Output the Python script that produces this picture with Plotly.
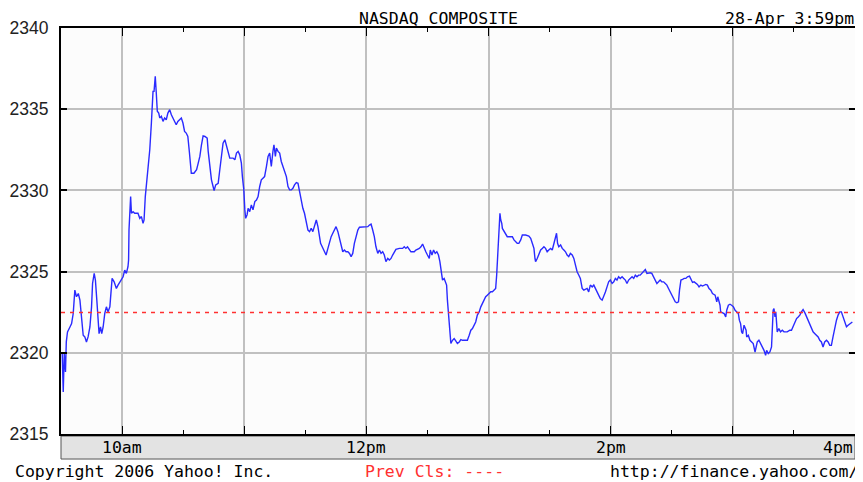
import plotly.graph_objects as go

# ---- data (minutes after 9:30 open, index level) ----
minutes = [
    0.6, 0.8, 1.1, 1.6, 2.2, 2.6, 3.2, 4.4, 5.2, 6.0, 6.8, 7.6, 8.5, 9.3, 10.1, 10.9, 11.7, 12.5, 13.3, 14.2,
    15.0, 15.5, 16.3, 16.9, 17.6, 18.2, 18.7, 19.4, 20.0, 20.7, 21.5, 22.3, 23.1, 24.0, 24.5, 25.1, 26.1, 27.2,
    28.0, 28.9, 29.7, 30.5, 31.3, 32.1, 32.9, 33.2, 33.4, 33.8, 34.2, 34.6, 35.4, 36.2, 37.8, 38.7, 39.5, 40.3,
    40.8, 41.4, 41.9, 42.7, 43.6, 44.4, 45.2, 45.7, 46.3, 46.8, 47.3, 48.0, 48.5, 49.3, 50.1, 50.9, 51.7, 52.5,
    53.4, 54.2, 55.0, 55.8, 56.6, 57.4, 58.2, 59.1, 59.9, 60.7, 61.5, 62.3, 63.1, 64.0,
    65.3, 66.6, 67.4, 68.2, 69.0, 69.8, 70.7, 71.8, 72.3, 73.1, 73.9, 74.7, 75.2, 76.0, 77.2, 78.0, 78.8, 79.6,
    80.5, 81.3, 82.1, 82.9, 84.5, 85.4, 86.2, 87.0, 87.8, 88.6, 89.1, 89.8, 90.3, 90.7, 91.4, 91.9, 92.7, 93.5,
    94.3, 95.2, 96.0, 96.8, 97.6, 98.4, 99.2, 100.0, 100.9, 101.7, 102.5, 102.8, 103.3, 104.1, 104.6, 105.3,
    105.8, 106.6, 107.4, 108.2, 109.0, 109.8, 110.7, 111.5, 112.3, 113.1, 113.9, 114.7, 115.6, 116.4, 117.2,
    118.0, 118.8, 119.6, 120.5, 121.3, 122.1, 122.9, 123.7, 124.5, 125.4, 126.2,
    127.5, 128.3, 128.9, 129.4, 130.2, 131.1, 131.9, 132.7, 133.5, 134.3, 135.1, 136.0, 136.8, 137.6, 138.4,
    139.2, 140.0, 140.9, 141.7, 142.5, 143.3, 144.1, 144.9, 145.8, 146.6, 148.2, 149.8, 150.7, 151.5, 152.3,
    153.1, 153.9, 154.7, 155.6, 156.4, 157.2, 158.0, 158.8, 159.6, 160.5, 161.3, 162.1, 162.9, 163.7, 164.5,
    166.2, 167.8, 168.6, 169.4, 170.2, 171.1, 171.9, 173.5, 174.3, 176.0, 176.8, 177.6, 178.4, 179.2, 180.0,
    180.9, 181.4, 182.2, 183.0, 183.8, 184.6, 185.4, 186.1, 186.9, 187.4, 188.2, 188.7, 189.4, 189.8, 190.3,
    191.0, 191.5,
    192.3, 193.1, 193.9, 194.7, 195.6, 196.4, 197.2, 198.8, 199.6, 200.5, 201.3, 202.1, 202.9, 203.7, 204.5,
    205.4, 206.2, 207.0, 207.8, 208.6, 209.4, 210.2, 211.1, 211.9, 212.7, 213.5, 214.0, 214.7, 215.1, 215.6,
    216.0, 216.5, 216.8, 217.6, 218.4, 219.2, 220.9, 221.7, 222.5, 223.3, 224.1, 224.9, 225.8, 226.6, 228.2,
    229.8, 230.7, 231.5, 232.3, 232.8, 233.1, 233.9, 234.7, 235.6, 236.4, 237.2, 238.0, 238.8, 239.6, 240.5,
    241.3, 242.1, 242.9, 243.4, 243.9, 244.5, 245.4, 246.2, 247.0, 247.8, 248.6, 249.4, 250.2, 251.1, 251.9,
    252.7, 253.5, 254.3, 255.1, 256.0, 256.8,
    258.4, 259.2, 260.0, 260.9, 261.7, 262.5, 263.3, 264.1, 264.9, 265.8, 266.6, 267.4, 268.2, 269.0, 269.8,
    270.7, 271.5, 272.3, 273.1, 273.9, 274.7, 275.6, 276.4, 277.2, 278.0, 278.8, 279.6, 280.5, 281.3, 282.1,
    282.9, 283.7, 284.5, 285.4, 286.2, 287.0, 287.8, 288.6, 289.4, 290.2, 291.1, 291.9, 292.7, 293.5, 294.3,
    295.1, 296.0, 296.8, 297.6, 298.4, 299.2, 300.0, 300.9, 301.7, 302.5, 303.3, 303.8, 304.5, 305.3, 306.1,
    306.9, 307.7, 308.7, 309.4, 310.2, 311.0, 311.8, 312.6, 313.4, 314.3, 315.1, 315.9, 316.7, 317.5, 318.3,
    319.2, 320.0,
    321.3, 322.1, 322.6, 323.2, 323.7, 324.0, 324.9, 325.7, 326.5, 327.0, 327.8, 328.6, 329.4, 330.3, 331.1,
    331.9, 332.7, 333.2, 333.8, 334.3, 334.8, 335.5, 336.0, 336.5, 336.8, 337.6, 338.4, 339.2, 340.0, 340.9,
    341.4, 342.0, 342.8, 343.6, 344.5, 345.3, 346.1, 346.6, 347.4, 348.2, 349.0, 349.2, 349.5, 349.8, 350.2,
    350.7, 351.1, 351.8, 352.6, 353.4, 354.3, 355.1, 356.7, 358.0, 358.8, 359.6, 360.5, 361.3, 362.1, 362.9,
    363.7, 364.5, 365.4, 366.2, 367.0, 367.8, 368.6, 369.4, 370.3, 371.1, 371.9, 372.7, 373.5, 374.3, 375.1,
    376.0, 376.8, 377.6, 378.4, 379.2, 380.0, 380.9, 381.7, 382.5, 383.3, 384.1, 384.9, 385.8, 386.6, 387.4,
    388.2, 388.7,
]

index_values = [
    2319.95, 2318.82, 2317.58, 2319.95, 2318.82, 2320.67, 2321.29, 2321.59, 2321.80, 2322.42, 2323.86, 2323.45,
    2323.65, 2323.24, 2322.21, 2321.08, 2320.98, 2320.67, 2320.98, 2321.59, 2322.83, 2324.27, 2324.89, 2324.48,
    2323.24, 2322.01, 2321.18, 2321.59, 2321.18, 2321.59, 2322.42, 2322.83, 2322.52, 2322.83, 2323.86, 2324.58,
    2324.37, 2323.96, 2324.17, 2324.37, 2324.48, 2324.68, 2325.09, 2324.89, 2325.30, 2325.71, 2327.56, 2329.41,
    2329.62, 2328.59, 2328.69, 2328.59, 2328.59, 2328.28, 2328.39, 2327.97, 2328.18, 2329.62, 2330.24, 2331.27,
    2332.50, 2334.15, 2336.10, 2336.10, 2337.03, 2336.00, 2334.87, 2334.76, 2334.46, 2334.56, 2334.25, 2334.46,
    2334.35, 2334.76, 2334.97, 2334.66, 2334.46, 2334.25, 2334.04, 2334.25, 2334.35, 2334.46, 2334.15, 2333.63,
    2333.53, 2333.32, 2332.30, 2331.06,
    2331.06, 2331.27, 2331.68, 2332.09, 2332.81, 2333.36, 2333.32, 2333.22, 2332.40, 2331.47, 2330.65, 2330.24,
    2329.99, 2330.34, 2330.44, 2331.27, 2332.09, 2332.91, 2333.12, 2332.71, 2332.30, 2331.99, 2331.99, 2331.88,
    2332.30, 2332.40, 2332.19, 2331.68, 2330.85, 2330.03, 2328.80, 2328.28, 2328.49, 2328.90, 2328.69, 2329.11,
    2328.80, 2329.31, 2329.41, 2329.62, 2330.24, 2330.65, 2330.75, 2330.85, 2331.47, 2332.09, 2332.30, 2331.78,
    2331.47, 2332.40, 2332.81, 2332.09, 2332.60, 2332.40, 2332.30, 2331.78, 2331.47, 2331.27, 2330.85, 2330.24,
    2330.03, 2330.03, 2330.13, 2330.34, 2330.48, 2330.44, 2329.93, 2329.31, 2328.90, 2328.59, 2328.08, 2327.56,
    2327.46, 2327.67, 2327.46, 2327.77, 2328.18, 2327.77,
    2326.74, 2326.53, 2326.33, 2326.22, 2326.02, 2326.43, 2326.84, 2327.15, 2327.36, 2327.56, 2327.77, 2327.46,
    2327.05, 2326.53, 2326.22, 2326.33, 2326.22, 2326.22, 2326.12, 2325.92, 2326.12, 2326.74, 2327.15, 2327.56,
    2327.73, 2327.73, 2327.77, 2327.77, 2327.87, 2327.93, 2327.56, 2327.15, 2326.53, 2326.12, 2326.33, 2326.12,
    2326.22, 2326.02, 2325.61, 2325.81, 2325.71, 2325.81, 2326.02, 2326.22, 2326.37, 2326.43, 2326.43, 2326.53,
    2326.43, 2326.53, 2326.33, 2326.22, 2326.22, 2326.33, 2326.43, 2326.53, 2326.70, 2326.43, 2326.22, 2326.02,
    2325.81, 2326.33, 2326.02, 2326.33, 2326.12, 2326.22, 2326.02, 2325.61, 2324.99, 2324.48, 2324.58, 2324.37,
    2324.17, 2323.24, 2322.42, 2321.39, 2320.57,
    2320.77, 2320.87, 2320.73, 2320.57, 2320.67, 2320.81, 2320.77, 2320.77, 2320.77, 2321.08, 2321.39, 2321.49,
    2321.70, 2321.90, 2322.32, 2322.52, 2322.83, 2323.04, 2323.34, 2323.45, 2323.55, 2323.65, 2323.76, 2323.76,
    2323.86, 2323.96, 2324.79, 2326.33, 2327.77, 2328.59, 2328.18, 2327.97, 2327.66, 2327.46, 2327.25, 2327.15,
    2327.15, 2327.15, 2326.95, 2326.84, 2326.74, 2326.74, 2326.95, 2327.25, 2327.25, 2327.19, 2327.05, 2326.74,
    2326.43, 2325.81, 2325.61, 2325.81, 2326.02, 2326.33, 2326.43, 2326.53, 2326.43, 2326.22, 2326.33, 2326.43,
    2326.33, 2326.74, 2327.25, 2327.36, 2326.74, 2326.53, 2326.64, 2326.43, 2326.33, 2326.22, 2326.02, 2325.92,
    2326.12, 2326.02, 2325.81, 2325.40, 2324.99, 2324.79, 2324.58, 2323.96, 2323.86,
    2323.96, 2323.75, 2324.17, 2324.06, 2324.17, 2323.96, 2323.75, 2323.55, 2323.34, 2323.24, 2323.45, 2323.75,
    2324.06, 2324.37, 2324.48, 2324.27, 2324.37, 2324.58, 2324.48, 2324.68, 2324.58, 2324.68, 2324.58, 2324.48,
    2324.27, 2324.48, 2324.58, 2324.68, 2324.58, 2324.78, 2324.68, 2324.78, 2324.78, 2324.89, 2324.99, 2325.13,
    2324.89, 2324.93, 2324.93, 2324.89, 2324.68, 2324.48, 2324.27, 2324.37, 2324.48, 2324.37, 2324.37, 2324.27,
    2324.17, 2323.96, 2323.75, 2323.55, 2323.34, 2323.14, 2323.08, 2323.14, 2323.86, 2324.48, 2324.52, 2324.58,
    2324.58, 2324.68, 2324.72, 2324.52, 2324.33, 2324.37, 2324.31, 2324.21, 2324.06, 2324.17, 2324.11, 2324.17,
    2324.21, 2324.17, 2323.96, 2323.86, 2323.65,
    2323.55, 2323.14, 2323.45, 2323.24, 2322.93, 2322.52, 2322.48, 2322.42, 2322.21, 2322.62, 2322.93, 2322.99,
    2322.93, 2322.83, 2322.62, 2322.52, 2322.42, 2322.01, 2321.80, 2321.29, 2321.18, 2321.70, 2321.49, 2321.39,
    2320.98, 2321.08, 2320.77, 2320.67, 2320.57, 2320.05, 2320.36, 2320.67, 2320.77, 2320.57, 2320.36, 2320.15,
    2319.85, 2320.15, 2319.95, 2320.05, 2320.36, 2321.39, 2321.49, 2322.62, 2322.73, 2322.21, 2322.52, 2321.29,
    2321.49, 2321.29, 2321.39, 2321.29, 2321.29, 2321.39, 2321.39, 2321.60, 2321.90, 2322.11, 2322.21, 2322.32,
    2322.52, 2322.66, 2322.46, 2322.21, 2322.01, 2321.70, 2321.49, 2321.29, 2321.18, 2321.08, 2320.98, 2320.77,
    2320.67, 2320.36, 2320.67, 2320.77, 2320.67, 2320.46, 2320.46, 2320.98, 2321.60, 2322.01, 2322.32, 2322.52,
    2322.52, 2322.21, 2321.90, 2321.60, 2321.70, 2321.80, 2321.90, 2321.90,
]

prev_close = 2322.48

x_tick_positions = [30, 150, 270, 390]
x_tick_labels = ["10am", "12pm", "2pm", "4pm"]
y_tick_values = [2315, 2320, 2325, 2330, 2335, 2340]

title_text = "NASDAQ COMPOSITE"
timestamp_text = "28-Apr 3:59pm"
footer_left = "Copyright 2006 Yahoo! Inc."
footer_mid = "Prev Cls: ----"
footer_right = "http://finance.yahoo.com/"

MONO = "DejaVu Sans Mono"
MONO_SIZE = 16.5
PLOT_H = 405.5  # px height of plot area
PLOT_W = 794.0  # px width of plot area

fig = go.Figure()
fig.add_trace(go.Scatter(
    x=minutes, y=index_values, mode="lines",
    line=dict(color="#2a2aff", width=1.4),
    hoverinfo="skip", showlegend=False,
))

# previous close dashed line
fig.add_shape(type="line", xref="paper", x0=0, x1=1, yref="y", y0=prev_close, y1=prev_close,
              line=dict(color="#ff3030", width=1.4, dash="4px,5px"))

# grey time band below plot
fig.add_shape(type="rect", xref="paper", x0=0, x1=1, yref="paper",
              y0=-2 / PLOT_H, y1=-25 / PLOT_H,
              fillcolor="#e3e3e3", line=dict(color="#555555", width=1), layer="below")

annotations = []
for pos, lab in zip(x_tick_positions, x_tick_labels):
    annotations.append(dict(
        x=pos, xref="x", y=-13 / PLOT_H, yref="paper", text=lab, showarrow=False,
        xanchor="right" if pos == x_tick_positions[-1] else "center", yanchor="middle",
        font=dict(family=MONO, size=MONO_SIZE, color="#000000"),
    ))

annotations += [
    dict(x=(438.5 - 61) / PLOT_W, xref="paper", y=1 + 20 / PLOT_H, yref="paper", text=title_text,
         showarrow=False, xanchor="center", yanchor="top", borderpad=0,
         font=dict(family=MONO, size=MONO_SIZE, color="#000")),
    dict(x=1.0, xref="paper", y=1 + 20 / PLOT_H, yref="paper", text=timestamp_text,
         showarrow=False, xanchor="right", yanchor="top", borderpad=0,
         font=dict(family=MONO, size=MONO_SIZE, color="#000")),
    dict(x=(13 - 61) / PLOT_W, xref="paper", y=-37 / PLOT_H, yref="paper", text=footer_left,
         showarrow=False, xanchor="left", yanchor="middle",
         font=dict(family=MONO, size=MONO_SIZE, color="#000")),
    dict(x=(363 - 61) / PLOT_W, xref="paper", y=-37 / PLOT_H, yref="paper", text=footer_mid,
         showarrow=False, xanchor="left", yanchor="middle",
         font=dict(family=MONO, size=MONO_SIZE, color="#ff3030")),
    dict(x=(860 - 61) / PLOT_W, xref="paper", y=-37 / PLOT_H, yref="paper", text=footer_right,
         showarrow=False, xanchor="right", yanchor="middle",
         font=dict(family=MONO, size=MONO_SIZE, color="#000")),
]

# page body has an 8px margin, so the figure is 8px smaller and margins shifted
fig.update_layout(
    width=855, height=474,
    margin=dict(l=53, r=8, t=20, b=48, pad=0, autoexpand=False),
    paper_bgcolor="#ffffff",
    plot_bgcolor="#fcfcfc",
    showlegend=False,
    annotations=annotations,
    xaxis=dict(
        range=[0, 390], tickmode="linear", tick0=30, dtick=60,
        showticklabels=False, ticks="inside", ticklen=8, tickcolor="#000", tickwidth=1,
        showgrid=True, gridcolor="#c0c0c0", gridwidth=2,
        showline=True, linecolor="#000", linewidth=2, mirror="ticks",
        minor=dict(tick0=0, dtick=30, ticks="inside", ticklen=4, tickcolor="#000", tickwidth=1, showgrid=False),
        zeroline=False, fixedrange=True, automargin=False,
    ),
    yaxis=dict(
        range=[2315, 2340], tickmode="array", tickvals=y_tick_values,
        ticktext=[str(v) for v in y_tick_values],
        ticks="inside", ticklen=6, tickcolor="#000", tickwidth=1.5,
        showgrid=True, gridcolor="#c0c0c0", gridwidth=2,
        showline=True, linecolor="#000", linewidth=2, mirror="ticks",
        tickfont=dict(family="Liberation Sans", size=17.5, color="#222"),
        ticklabelstandoff=7,
        zeroline=False, fixedrange=True, automargin=False,
    ),
)

fig.write_html("out.html")
